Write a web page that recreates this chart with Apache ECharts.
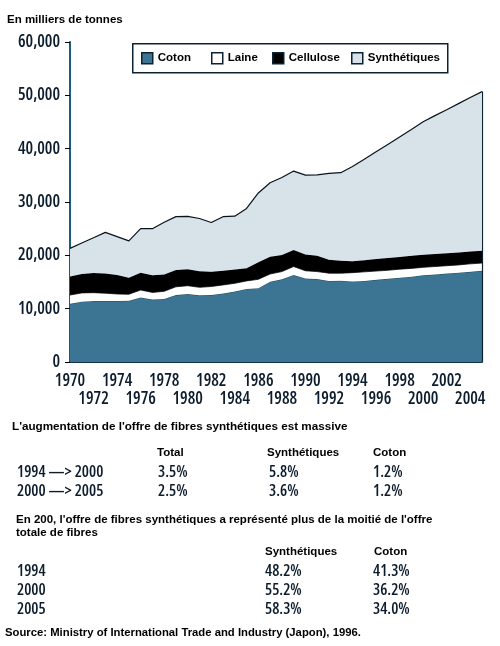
<!DOCTYPE html>
<html><head><meta charset="utf-8">
<script src="https://cdn.jsdelivr.net/npm/echarts@6/dist/echarts.min.js"></script>
<style>html,body{margin:0;padding:0;background:#fff}#c{width:500px;height:646px}</style>
</head><body><div id="c"></div>
<script>
// ---- data (thousand tonnes) ----
const years = ['1970','1971','1972','1973','1974','1975','1976','1977','1978','1979',
  '1980','1981','1982','1983','1984','1985','1986','1987','1988','1989',
  '1990','1991','1992','1993','1994','1995','1996','1997','1998','1999',
  '2000','2001','2002','2003','2004','2005'];
const coton = [10900,11300,11450,11450,11450,11500,12100,11700,11800,12550,
  12750,12500,12550,12850,13200,13700,13850,15050,15500,16300,
  15650,15550,15200,15250,15100,15200,15400,15600,15800,16000,
  16250,16400,16600,16750,16900,17100];
const laine = [1650,1650,1550,1450,1300,1200,1400,1350,1450,1550,
  1550,1500,1600,1600,1550,1500,1650,1450,1450,1600,
  1450,1400,1450,1400,1650,1700,1650,1600,1600,1550,
  1500,1500,1450,1450,1500,1450];
const cellulose = [3500,3550,3700,3700,3550,3100,3250,3200,3150,3150,
  3100,3000,2750,2650,2600,2400,3200,3250,3100,3100,
  3050,2950,2500,2350,2150,2200,2250,2300,2300,2350,
  2350,2350,2350,2350,2300,2300];
const synthetiques = [5250,5800,6600,7700,7200,6900,8250,8750,9800,10000,
  9900,9900,9250,10150,10000,11200,13000,13850,14550,14800,
  14900,15200,16200,16500,17750,18900,20100,21300,22500,23700,
  24950,25950,26900,27900,28900,29850];
const yMin = 0, yMax = 60000, yStep = 10000;
const seriesNames = ['Coton','Laine','Cellulose','Synthétiques'];

// table texts
const table1Title = "L'augmentation de l'offre de fibres synthétiques est massive";
const table1Head = ['Total','Synthétiques','Coton'];
const table1Rows = [['1994 \u2014> 2000','3.5%','5.8%','1.2%'],['2000 \u2014> 2005','2.5%','3.6%','1.2%']];
const table2Title = ["En 200, l'offre de fibres synthétiques a représenté plus de la moitié de l'offre", 'totale de fibres'];
const table2Head = ['Synthétiques','Coton'];
const table2Rows = [['1994','48.2%','41.3%'],['2000','55.2%','36.2%'],['2005','58.3%','34.0%']];
const unitText = 'En milliers de tonnes';
const sourceText = 'Source: Ministry of International Trade and Industry (Japon), 1996.';

// ---- styling ----
const COND = "'Open Sans'";
const CONDW = '600 condensed';
const BOLD = "'Liberation Sans',Arial,sans-serif";
const NAVY = '#0c1c2c';
const fills = ['#3b7593','#ffffff','#000000','#d7e3e9'];
const edge = ['#163c50','#1a1a1a','#000000','#08141c'];

const n = years.length;
const totalLast = coton[n-1] + laine[n-1] + cellulose[n-1] + synthetiques[n-1];
const values = [coton, laine, cellulose, synthetiques];

const series = seriesNames.map((name, i) => ({
  name, type: 'line', stack: 'tot', data: values[i], symbol: 'none', smooth: false,
  xAxisIndex: 0, yAxisIndex: 0,
  color: fills[i],
  lineStyle: { color: edge[i], width: i === 3 ? 1.2 : 0.8 },
  areaStyle: { color: fills[i], opacity: 1 },
  z: 2 + i,
  markLine: i === 3 ? { silent: true, symbol: 'none', label: { show: false },
    lineStyle: { color: '#0c2233', width: 1.2, type: 'solid' },
    data: [[{ coord: [years[n-1], 0] }, { coord: [years[n-1], totalLast] }]] } : undefined
}));

const legendLeft = [141, 211, 272, 351];
const legends = seriesNames.map((name, i) => ({
  left: legendLeft[i], top: 52, padding: 0, itemWidth: 11, itemHeight: 11, itemGap: 5,
  icon: 'rect', selectedMode: false,
  textStyle: { fontFamily: BOLD, fontWeight: 'bold', fontSize: 11.5, color: '#000', padding: [0,0,0,0] },
  data: [{ name, itemStyle: { borderColor: '#0c2233', borderWidth: 1.5 } }]
}));

function txt(x, y, text, font, size, weight) {
  return { type: 'text', left: x, top: y, style: { text, fontFamily: font, fontSize: size,
    fontWeight: weight || 'normal', fill: weight === 'bold' ? '#000' : NAVY } };
}
const g = [];
g.push({ type: 'rect', left: 132, top: 43, shape: { width: 315, height: 29 }, z: 0,
  style: { fill: '#fff', stroke: '#0c2233', lineWidth: 1.5 } });
g.push(txt(7, 14, unitText, BOLD, 11.5, 'bold'));
g.push(txt(12, 421, table1Title, BOLD, 11.7, 'bold'));
[157, 267, 373].forEach((x, k) => g.push(txt(x, 447, table1Head[k], BOLD, 11.5, 'bold')));
table1Rows.forEach((r, j) => {
  const y = 464 + j * 19.3;
  [17, 158, 269, 373].forEach((x, k) => g.push(txt(x, y, r[k], COND, 16, CONDW)));
});
g.push(txt(16, 514, table2Title[0], BOLD, 11.5, 'bold'));
g.push(txt(16, 527, table2Title[1], BOLD, 11.5, 'bold'));
[265, 374].forEach((x, k) => g.push(txt(x, 546, table2Head[k], BOLD, 11.5, 'bold')));
table2Rows.forEach((r, j) => {
  const y = 563 + j * 19.3;
  [17, 265, 373].forEach((x, k) => g.push(txt(x, y, r[k], COND, 16, CONDW)));
});
g.push(txt(5, 627, sourceText, BOLD, 11.3, 'bold'));

const xLabelStyle = { fontFamily: COND, fontWeight: CONDW, fontSize: 17, color: NAVY };

const chart = echarts.init(document.getElementById('c'), null, { renderer: 'canvas' });
chart.setOption({
  animation: false,
  backgroundColor: '#fff',
  grid: { left: 70, right: 18, top: 42, bottom: 284, containLabel: false },
  legend: legends,
  xAxis: [{
    type: 'category', data: years, boundaryGap: false,
    axisLine: { show: true, lineStyle: { color: '#12324a', width: 2 } },
    axisTick: { show: false },
    axisLabel: Object.assign({ interval: (i) => i % 4 === 0, margin: 11 }, xLabelStyle),
    splitLine: { show: false }
  }, {
    type: 'category', data: years, boundaryGap: false, position: 'bottom',
    axisLine: { show: false }, axisTick: { show: false },
    axisLabel: Object.assign({ interval: (i) => i % 4 === 2, margin: 29 }, xLabelStyle),
    splitLine: { show: false }
  }],
  yAxis: {
    type: 'value', min: yMin, max: yMax, interval: yStep,
    axisLine: { show: true, lineStyle: { color: '#1d5b7b', width: 2 } },
    axisTick: { show: true, length: 5, lineStyle: { color: '#000', width: 1 } },
    axisLabel: Object.assign({ margin: 10, formatter: v => v.toLocaleString('en-US') }, xLabelStyle),
    splitLine: { show: false }
  },
  graphic: g,
  series
});
</script></body></html>
